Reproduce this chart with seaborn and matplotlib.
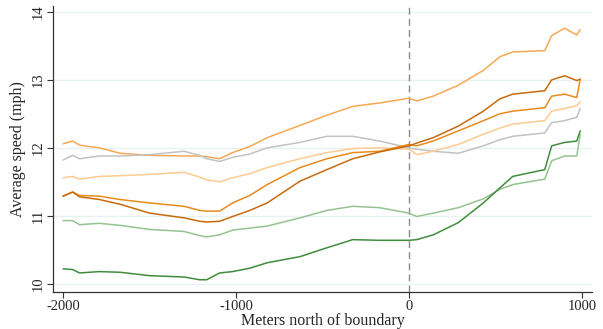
import matplotlib
matplotlib.use("Agg")
import matplotlib.pyplot as plt
import numpy as np
import pandas as pd
import seaborn as sns

# Distance from the boundary (meters, positive = north)
meters = [-2000, -1945, -1905, -1790, -1670, -1500, -1300, -1210, -1170, -1095,
          -1020, -920, -820, -630, -475, -325, -170, 0, 45, 140,
          285, 430, 525, 600, 785, 825, 900, 970, 990]

# Average speed (mph) for each group
speed_orange_light = [12.06, 12.10, 12.04, 12.00, 11.92, 11.89, 11.88, 11.88, 11.87, 11.84,
                      11.93, 12.02, 12.15, 12.33, 12.48, 12.61, 12.66, 12.73, 12.69, 12.76,
                      12.92, 13.14, 13.34, 13.41, 13.43, 13.65, 13.76, 13.66, 13.74]
speed_gray = [11.82, 11.89, 11.84, 11.88, 11.88, 11.90, 11.95, 11.89, 11.84, 11.80,
              11.86, 11.91, 12.00, 12.08, 12.17, 12.17, 12.10, 12.00, 11.98, 11.95,
              11.92, 12.03, 12.12, 12.17, 12.22, 12.37, 12.40, 12.45, 12.58]
speed_orange_pale = [11.56, 11.58, 11.54, 11.58, 11.59, 11.61, 11.64, 11.57, 11.53, 11.50,
                     11.56, 11.62, 11.71, 11.84, 11.93, 11.99, 12.00, 11.98, 11.90, 11.95,
                     12.05, 12.20, 12.29, 12.35, 12.40, 12.54, 12.58, 12.62, 12.68]
speed_orange_mid = [11.29, 11.35, 11.30, 11.29, 11.24, 11.19, 11.14, 11.08, 11.07, 11.07,
                    11.19, 11.30, 11.46, 11.71, 11.84, 11.93, 11.95, 12.05, 12.03, 12.10,
                    12.25, 12.40, 12.50, 12.54, 12.59, 12.76, 12.79, 12.74, 13.01]
speed_orange_dark = [11.29, 11.35, 11.28, 11.24, 11.17, 11.04, 10.97, 10.92, 10.91, 10.92,
                     10.99, 11.08, 11.19, 11.51, 11.68, 11.84, 11.94, 12.03, 12.07, 12.15,
                     12.32, 12.54, 12.72, 12.79, 12.84, 13.00, 13.06, 12.99, 13.01]
speed_green_light = [10.93, 10.93, 10.87, 10.89, 10.86, 10.80, 10.77, 10.71, 10.69, 10.72,
                     10.79, 10.82, 10.85, 10.97, 11.08, 11.14, 11.12, 11.04, 10.99, 11.04,
                     11.12, 11.25, 11.39, 11.46, 11.54, 11.81, 11.88, 11.88, 12.20]
speed_green_dark = [10.22, 10.21, 10.16, 10.18, 10.17, 10.12, 10.10, 10.06, 10.06, 10.16,
                    10.18, 10.23, 10.31, 10.40, 10.53, 10.65, 10.64, 10.64, 10.65, 10.72,
                    10.90, 11.19, 11.41, 11.58, 11.68, 12.03, 12.08, 12.10, 12.25]

series = {
    "orange_light": (speed_orange_light, "#f5a955"),
    "gray": (speed_gray, "#c2c2c2"),
    "orange_pale": (speed_orange_pale, "#fdca92"),
    "orange_mid": (speed_orange_mid, "#e98a1d"),
    "orange_dark": (speed_orange_dark, "#c76b0d"),
    "green_light": (speed_green_light, "#95c390"),
    "green_dark": (speed_green_dark, "#3f8d3c"),
}

frames = [pd.DataFrame({"meters": meters, "speed": vals, "group": name})
          for name, (vals, _) in series.items()]
df = pd.concat(frames, ignore_index=True)
palette = {name: col for name, (_, col) in series.items()}

sns.set_theme(style="ticks")
plt.rcParams["font.family"] = ["Liberation Serif", "DejaVu Serif"]
plt.rcParams["axes.unicode_minus"] = False

fig = plt.figure(figsize=(6.03, 3.29), dpi=100)
ax = fig.add_axes([0.088, 0.1125, 0.894, 0.87])

for y in [10, 11, 12, 13, 14]:
    ax.axhline(y, color="#e9f1f3", lw=1.0, zorder=0)

sns.lineplot(data=df, x="meters", y="speed", hue="group", palette=palette,
             linewidth=1.1, legend=False, ax=ax)

ax.axvline(0, color="#8a8a8a", lw=1.0, ls=(0, (5, 3)), zorder=1)

ax.set_xlim(-2058, 1059)
ax.set_ylim(9.88, 14.09)
ax.set_xticks([-2000, -1000, 0, 1000])
ax.set_yticks([10, 11, 12, 13, 14])
ax.set_xlabel("Meters north of boundary", fontsize=11.5, labelpad=0)
ax.set_ylabel("Average speed (mph)", fontsize=11.5, labelpad=4)
ax.tick_params(axis="both", labelsize=10.5, length=4, width=0.8, color="#333333", pad=2)
for lbl in ax.get_yticklabels():
    lbl.set_rotation(90)
    lbl.set_va("center")
sns.despine(ax=ax)
for side in ["left", "bottom"]:
    ax.spines[side].set_color("#333333")
    ax.spines[side].set_linewidth(0.9)

fig.savefig("out.png", dpi=100, facecolor="white")
